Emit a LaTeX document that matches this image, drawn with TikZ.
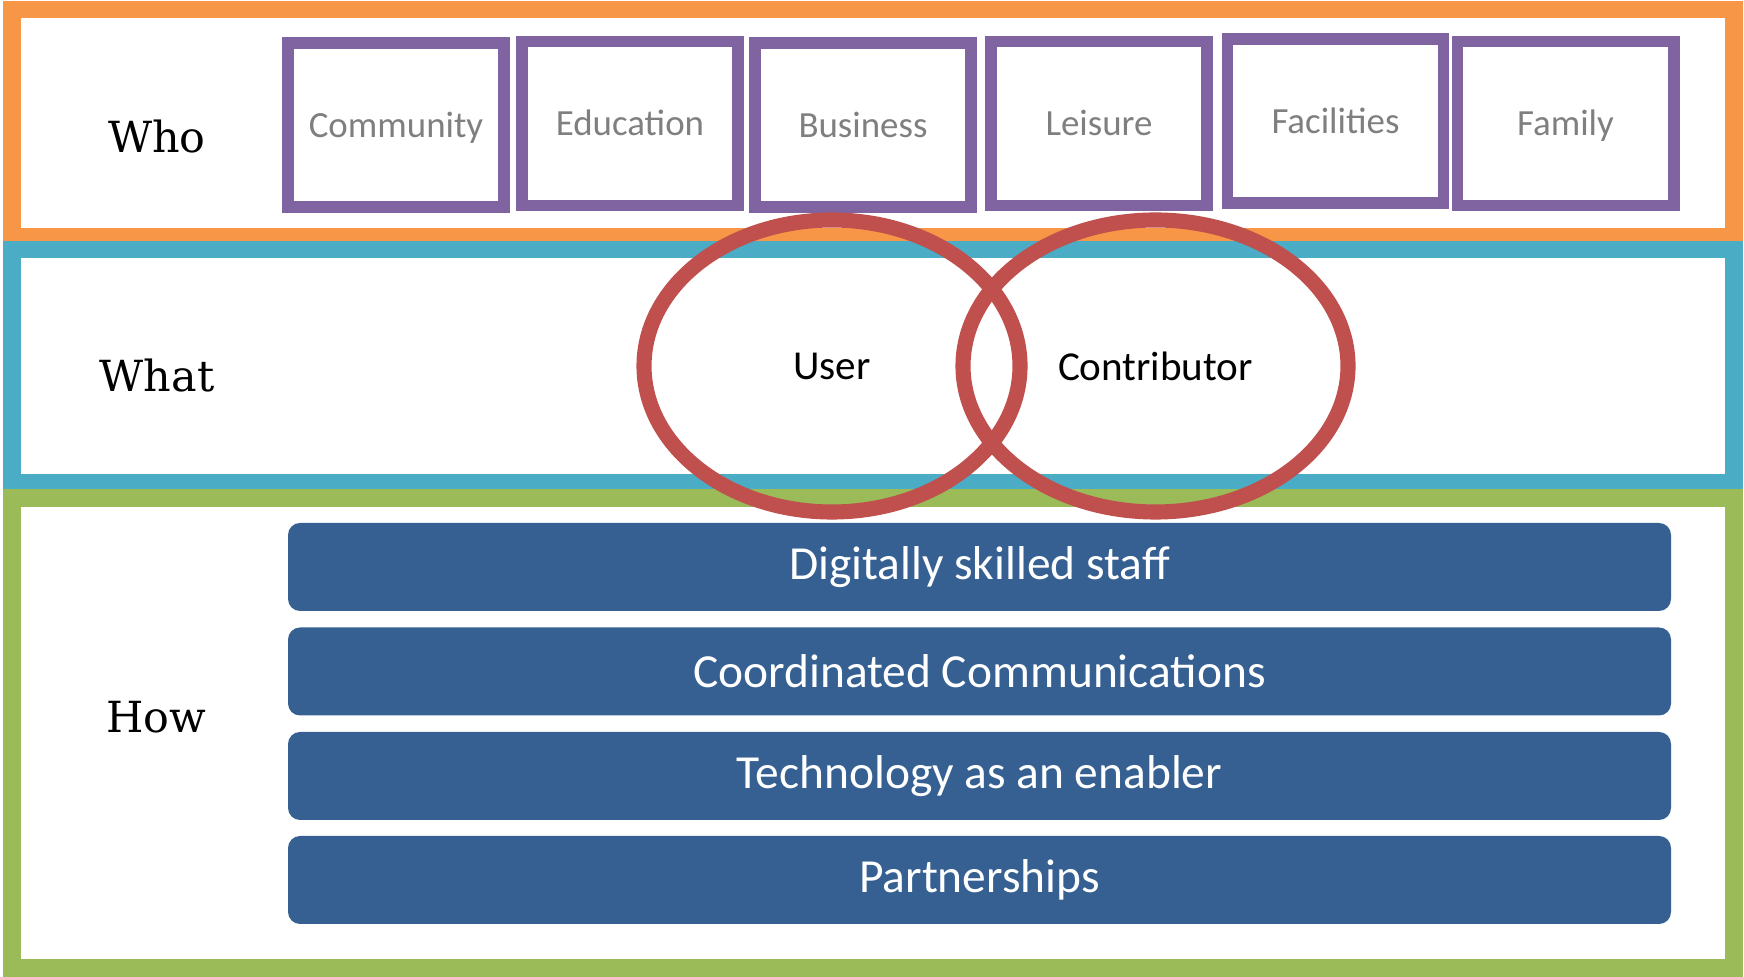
\documentclass[tikz,border=0pt]{standalone}
\usepackage{fontspec}
\usepackage{tikz}
\usepackage{xcolor}
\usetikzlibrary{shapes.geometric}
\setmainfont{Carlito}
\newfontfamily\slabfont{DejaVu Serif}

\definecolor{frameorange}{HTML}{F79646}
\definecolor{frameteal}{HTML}{4BACC6}
\definecolor{framegreen}{HTML}{9BBB59}
\definecolor{whopurple}{HTML}{8064A2}
\definecolor{vennred}{HTML}{C0504D}
\definecolor{howblue}{HTML}{366092}
\definecolor{whogray}{HTML}{7F7F7F}

\tikzset{
  rowlabel/.style={font=\slabfont\fontsize{12.2}{14}\selectfont},
  whobox/.style={draw=whopurple, line width=3.4pt, minimum width=2.16cm,
    minimum height=1.64cm, text=whogray, text height=0.7em, text depth=0pt,
    font=\fontsize{10.5}{12}\selectfont},
  vennring/.style={ellipse, draw=vennred, line width=4.3pt,
    minimum height=2.92cm, font=\fontsize{11.7}{13}\selectfont},
  howbar/.style={fill=howblue, rounded corners=0.12cm, minimum width=13.83cm,
    minimum height=0.88cm, text=white, font=\fontsize{13.5}{16}\selectfont}
}

\begin{document}
\begin{tikzpicture}
  \useasboundingbox (0,0) rectangle (17.44,-9.77);
  \draw[frameorange, line width=5.1pt] (0.12,-0.095) rectangle (17.34,-2.37);
  \draw[frameteal, line width=5.1pt] (0.12,-2.495) rectangle (17.34,-4.83);
  \draw[framegreen, line width=5.1pt] (0.12,-4.98) rectangle (17.34,-9.68);

  \node[rowlabel] (who) at (1.57,-1.37) {Who};
  \node[rowlabel] (what) at (1.57,-3.76) {What};
  \node[rowlabel] (how) at (1.56,-7.175) {How};

\node[whobox] (community) at (3.96,-1.25) {Community};
\node[whobox] (education) at (6.30,-1.235) {Education};
\node[whobox] (business) at (8.63,-1.25) {Business};
\node[whobox] (leisure) at (10.99,-1.235) {Leisure};
\node[whobox] (facilities) at (13.355,-1.21) {Facilities};
\node[whobox] (family) at (15.655,-1.235) {Family};

\node[vennring, minimum width=3.76cm] (user) at (8.32,-3.66) {User};
\node[vennring, minimum width=3.85cm] (contrib) at (11.555,-3.66) {Contributor};

\node[howbar] (staff) at (9.795,-5.67) {Digitally skilled staff};
\node[howbar] (comms) at (9.795,-6.715) {Coordinated Communications};
\node[howbar] (tech) at (9.795,-7.76) {Technology as an enabler};
\node[howbar] (partners) at (9.795,-8.80) {Partnerships};
\end{tikzpicture}
\end{document}
